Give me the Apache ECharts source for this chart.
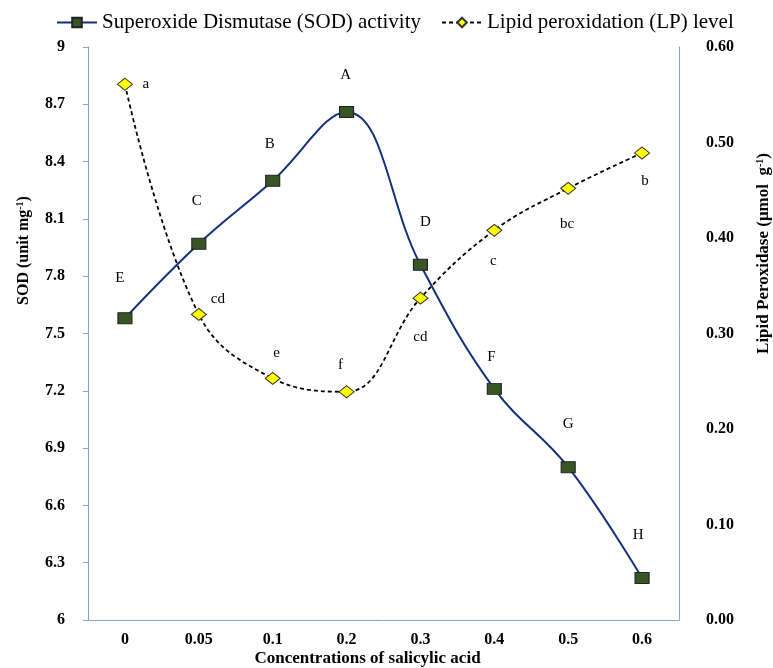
<!DOCTYPE html>
<html>
<head>
<meta charset="utf-8">
<script src="https://cdn.jsdelivr.net/npm/echarts@6/dist/echarts.min.js"></script>
<style>
  html, body { margin: 0; padding: 0; background: #fff; }
  #chart { width: 773px; height: 668px; }
</style>
</head>
<body>
<div id="chart"></div>
<script>
// data
var concentrations = ['0', '0.05', '0.1', '0.2', '0.3', '0.4', '0.5', '0.6'];
var sodValues = [7.58, 7.97, 8.30, 8.66, 7.86, 7.21, 6.80, 6.22];
var sodLetters = ['E', 'C', 'B', 'A', 'D', 'F', 'G', 'H'];
var lpValues = [0.561, 0.320, 0.253, 0.239, 0.337, 0.408, 0.452, 0.489];
var lpLetters = ['a', 'cd', 'e', 'f', 'cd', 'c', 'bc', 'b'];

// where each letter sits relative to its marker (px)
var sodLabelOffset = [[-5, -40], [-2, -43], [-3, -37], [-1, -37], [5, -43], [-3, -32], [0, -43], [-4, -43]];
var lpLabelOffset = [[21, 0], [19, -15], [4, -25], [-6, -27], [0, 39], [-1, 31], [-1, 36], [3, 28]];

var FONT = '"Liberation Serif", "Times New Roman", serif';
var AXIS_COLOR = '#7FA6D6';

function withLetters(values, letters, offsets) {
    return values.map(function (v, i) {
        return {
            value: v,
            label: { formatter: letters[i], offset: offsets[i] }
        };
    });
}

var supStyle = { fontFamily: FONT, fontSize: 10, fontWeight: 'bold', color: '#000', padding: [0, 0, 7, 0] };

var chart = echarts.init(document.getElementById('chart'));
chart.setOption({
    animation: false,
    backgroundColor: '#fff',
    textStyle: { fontFamily: FONT },
    legend: {
        top: 7,
        left: 51,
        itemWidth: 40,
        itemHeight: 12,
        itemGap: 20,
        textStyle: { fontFamily: FONT, fontSize: 21, color: '#000' },
        data: ['Superoxide Dismutase (SOD) activity', 'Lipid peroxidation (LP) level']
    },
    grid: {
        left: 88,
        right: 94,
        top: 47,
        bottom: 48,
        outerBoundsMode: 'none'
    },
    xAxis: {
        type: 'category',
        data: concentrations,
        boundaryGap: true,
        name: 'Concentrations of salicylic acid',
        nameLocation: 'middle',
        nameGap: 30,
        nameMoveOverlap: false,
        nameTextStyle: {
            fontFamily: FONT, fontSize: 17, fontWeight: 'bold', color: '#000',
            padding: [0, 32, 0, 0]
        },
        axisLine: { lineStyle: { color: AXIS_COLOR, width: 1 } },
        axisTick: { show: false },
        axisLabel: { margin: 12, fontFamily: FONT, fontSize: 16, fontWeight: 'bold', color: '#000' },
        splitLine: { show: false }
    },
    yAxis: [{
        type: 'value',
        min: 6,
        max: 9,
        interval: 0.3,
        position: 'left',
        name: 'SOD (unit mg{sup|-1})',
        nameLocation: 'middle',
        nameRotate: 90,
        nameGap: 56,
        nameMoveOverlap: false,
        nameTextStyle: {
            fontFamily: FONT, fontSize: 16, fontWeight: 'bold', color: '#000',
            padding: [0, 0, 0, 166],
            rich: { sup: supStyle }
        },
        axisLine: { show: true, lineStyle: { color: AXIS_COLOR, width: 1 } },
        axisTick: { show: true, inside: false, length: 5, lineStyle: { color: AXIS_COLOR } },
        axisLabel: { margin: 23, fontFamily: FONT, fontSize: 16, fontWeight: 'bold', color: '#000' },
        splitLine: { show: false }
    }, {
        type: 'value',
        min: 0,
        max: 0.6,
        interval: 0.1,
        position: 'right',
        name: 'Lipid Peroxidase (μmol  g{sup|-1})',
        nameLocation: 'middle',
        nameRotate: 90,
        nameGap: 76,
        nameMoveOverlap: false,
        nameTextStyle: {
            fontFamily: FONT, fontSize: 17, fontWeight: 'bold', color: '#000',
            padding: [0, 0, 0, 160],
            rich: { sup: supStyle }
        },
        axisLine: { show: true, lineStyle: { color: AXIS_COLOR, width: 1 } },
        axisTick: { show: false },
        axisLabel: {
            margin: 27, fontFamily: FONT, fontSize: 16, fontWeight: 'bold', color: '#000',
            formatter: function (v) { return v.toFixed(2); }
        },
        splitLine: { show: false }
    }],
    series: [{
        name: 'Superoxide Dismutase (SOD) activity',
        type: 'line',
        yAxisIndex: 0,
        smooth: 0.4,
        symbol: 'rect',
        symbolSize: [14, 11],
        itemStyle: { color: '#375623', borderColor: '#222', borderWidth: 1 },
        lineStyle: { color: '#13307A', width: 2 },
        label: {
            show: true, position: 'inside',
            fontFamily: FONT, fontSize: 15, color: '#000'
        },
        data: withLetters(sodValues, sodLetters, sodLabelOffset),
        z: 3
    }, {
        name: 'Lipid peroxidation (LP) level',
        type: 'line',
        yAxisIndex: 1,
        smooth: 0.4,
        symbol: 'diamond',
        symbolSize: [15, 12],
        itemStyle: { color: '#FFFF00', borderColor: '#333', borderWidth: 1 },
        lineStyle: { color: '#000', width: 1.8, type: [4, 3] },
        label: {
            show: true, position: 'inside',
            fontFamily: FONT, fontSize: 15, color: '#000'
        },
        data: withLetters(lpValues, lpLetters, lpLabelOffset),
        z: 4
    }]
});
</script>
</body>
</html>
